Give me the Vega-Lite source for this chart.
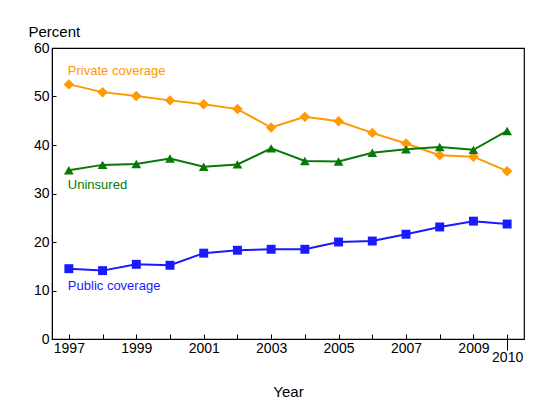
{
  "$schema": "https://vega.github.io/schema/vega-lite/v6.json",
  "autosize": "none",
  "width": 472,
  "height": 291,
  "padding": {"left": 52, "top": 48, "right": 36, "bottom": 81},
  "background": "white",
  "config": {
    "font": "Liberation Sans",
    "view": {"stroke": "black", "strokeWidth": 1.2},
    "axis": {
      "labelFont": "Liberation Sans",
      "titleFont": "Liberation Sans",
      "labelFontSize": 14,
      "titleFontSize": 15,
      "titleFontWeight": "normal",
      "labelColor": "black",
      "titleColor": "black",
      "domainColor": "black",
      "tickColor": "black",
      "grid": false
    }
  },
  "datasets": {
    "series": [
      {"year": 1997, "series": "Private coverage", "value": 52.5},
      {"year": 1998, "series": "Private coverage", "value": 50.9},
      {"year": 1999, "series": "Private coverage", "value": 50.1},
      {"year": 2000, "series": "Private coverage", "value": 49.2},
      {"year": 2001, "series": "Private coverage", "value": 48.4},
      {"year": 2002, "series": "Private coverage", "value": 47.4},
      {"year": 2003, "series": "Private coverage", "value": 43.6},
      {"year": 2004, "series": "Private coverage", "value": 45.8},
      {"year": 2005, "series": "Private coverage", "value": 44.9},
      {"year": 2006, "series": "Private coverage", "value": 42.5},
      {"year": 2007, "series": "Private coverage", "value": 40.3},
      {"year": 2008, "series": "Private coverage", "value": 37.9},
      {"year": 2009, "series": "Private coverage", "value": 37.6},
      {"year": 2010, "series": "Private coverage", "value": 34.6},
      {"year": 1997, "series": "Uninsured", "value": 34.8},
      {"year": 1998, "series": "Uninsured", "value": 35.9},
      {"year": 1999, "series": "Uninsured", "value": 36.1},
      {"year": 2000, "series": "Uninsured", "value": 37.2},
      {"year": 2001, "series": "Uninsured", "value": 35.5},
      {"year": 2002, "series": "Uninsured", "value": 36.0},
      {"year": 2003, "series": "Uninsured", "value": 39.3},
      {"year": 2004, "series": "Uninsured", "value": 36.7},
      {"year": 2005, "series": "Uninsured", "value": 36.6},
      {"year": 2006, "series": "Uninsured", "value": 38.4},
      {"year": 2007, "series": "Uninsured", "value": 39.1},
      {"year": 2008, "series": "Uninsured", "value": 39.6},
      {"year": 2009, "series": "Uninsured", "value": 39.0},
      {"year": 2010, "series": "Uninsured", "value": 42.9},
      {"year": 1997, "series": "Public coverage", "value": 14.5},
      {"year": 1998, "series": "Public coverage", "value": 14.1},
      {"year": 1999, "series": "Public coverage", "value": 15.4},
      {"year": 2000, "series": "Public coverage", "value": 15.2},
      {"year": 2001, "series": "Public coverage", "value": 17.7},
      {"year": 2002, "series": "Public coverage", "value": 18.3},
      {"year": 2003, "series": "Public coverage", "value": 18.5},
      {"year": 2004, "series": "Public coverage", "value": 18.5},
      {"year": 2005, "series": "Public coverage", "value": 20.0},
      {"year": 2006, "series": "Public coverage", "value": 20.2},
      {"year": 2007, "series": "Public coverage", "value": 21.6},
      {"year": 2008, "series": "Public coverage", "value": 23.1},
      {"year": 2009, "series": "Public coverage", "value": 24.3},
      {"year": 2010, "series": "Public coverage", "value": 23.7}
    ],
    "labels": [
      {"year": 1997, "series": "Private coverage", "value": 55.3},
      {"year": 1997, "series": "Uninsured", "value": 31.8},
      {"year": 1997, "series": "Public coverage", "value": 10.9}
    ]
  },
  "resolve": {"axis": {"x": "independent"}},
  "layer": [
    {
      "data": {"name": "series"},
      "mark": {"type": "line", "strokeWidth": 2},
      "encoding": {
        "x": {
          "field": "year",
          "type": "quantitative",
          "scale": {"domain": [1996.5, 2010.5], "nice": false, "zero": false},
          "axis": {
            "orient": "bottom",
            "values": [1997, 1998, 1999, 2000, 2001, 2002, 2003, 2004, 2005, 2006, 2007, 2008, 2009, 2010],
            "format": "d",
            "labelExpr": "datum.value % 2 == 1 ? datum.label : ''",
            "tickSize": -5,
            "labelPadding": 7,
            "title": "Year",
            "titlePadding": 29
          }
        },
        "y": {
          "field": "value",
          "type": "quantitative",
          "scale": {"domain": [0, 60], "nice": false},
          "axis": {
            "values": [0, 10, 20, 30, 40, 50, 60],
            "tickSize": -4,
            "labelPadding": 7,
            "title": "Percent",
            "titleAngle": 0,
            "titleAlign": "left",
            "titleBaseline": "middle",
            "titleX": -24,
            "titleY": -17
          }
        },
        "color": {
          "field": "series",
          "type": "nominal",
          "scale": {
            "domain": ["Private coverage", "Uninsured", "Public coverage"],
            "range": ["#ff9900", "#087808", "#1a1aff"]
          },
          "legend": null
        }
      }
    },
    {
      "data": {"name": "series"},
      "mark": {"type": "point", "filled": true, "opacity": 1},
      "encoding": {
        "x": {
          "field": "year",
          "type": "quantitative",
          "axis": {
            "orient": "bottom",
            "values": [2010],
            "format": "d",
            "tickSize": 11,
            "labelPadding": 0,
            "domain": false,
            "title": null
          }
        },
        "y": {"field": "value", "type": "quantitative"},
        "color": {"field": "series", "type": "nominal", "legend": null},
        "shape": {
          "field": "series",
          "type": "nominal",
          "scale": {
            "domain": ["Private coverage", "Uninsured", "Public coverage"],
            "range": ["diamond", "triangle-up", "square"]
          },
          "legend": null
        },
        "size": {
          "field": "series",
          "type": "nominal",
          "scale": {
            "domain": ["Private coverage", "Uninsured", "Public coverage"],
            "range": [110, 80, 70]
          },
          "legend": null
        }
      }
    },
    {
      "data": {"name": "labels"},
      "mark": {"type": "text", "align": "left", "baseline": "middle", "fontSize": 13, "dx": -1},
      "encoding": {
        "x": {"field": "year", "type": "quantitative", "axis": null},
        "y": {"field": "value", "type": "quantitative"},
        "text": {"field": "series"},
        "color": {"field": "series", "type": "nominal", "legend": null}
      }
    }
  ]
}
